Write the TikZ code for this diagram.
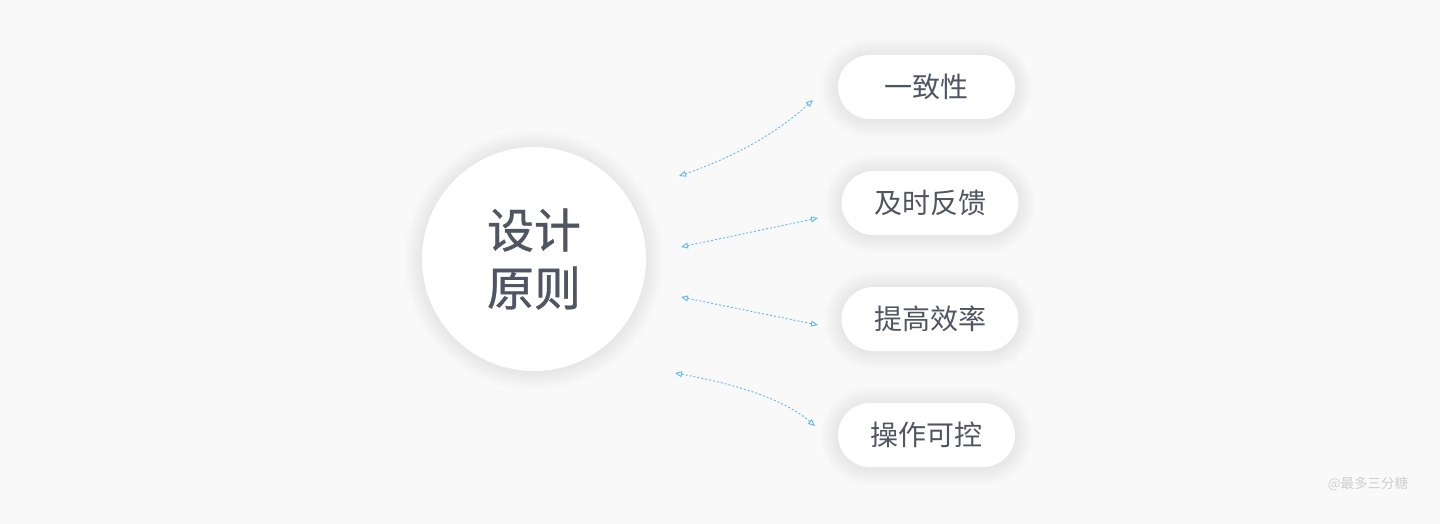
\documentclass[tikz,border=0pt]{standalone}
\usepackage{fontspec}
\setmainfont{Noto Sans CJK SC}
\usetikzlibrary{arrows.meta}
\definecolor{bgc}{HTML}{F9F9F9}
\definecolor{txt}{HTML}{4F5562}
\definecolor{arr}{HTML}{62B8F2}
\definecolor{wm}{HTML}{CFCFCF}
\tikzset{
  pill/.style={draw=none,fill=white,rounded corners=32pt,minimum width=177pt,minimum height=64pt,text=txt,font=\fontsize{28}{32}\selectfont},
  hub/.style={circle,draw=none,fill=white,minimum size=224pt,text=txt,font=\fontsize{47}{58}\selectfont\addfontfeatures{FakeBold=0.7},align=center},
  link/.style={arr,line width=0.9pt,dash pattern=on 2pt off 2pt,{Triangle[open,length=7pt,width=6pt]}-{Triangle[open,length=7pt,width=6pt]}}
}
\begin{document}
\begin{tikzpicture}[x=1pt,y=-1pt]
\fill[bgc] (0,0) rectangle (1440,524);
\useasboundingbox (0,0) rectangle (1440,524);
% soft shadows
\foreach \k in {1,...,18}{
  \fill[black,opacity=0.0035] (534,260) circle ({112+\k});
  \foreach \cx/\cy in {926.5/88,930/204,930/320,926.5/436}{
    \fill[black,opacity=0.0035,rounded corners={32+\k}] ({\cx-88.5-\k},{\cy-32-\k}) rectangle ({\cx+88.5+\k},{\cy+32+\k});
  }
}
\node[hub] (c) at (534,259) {设计\\原则};
\node[pill] (p1) at (926.5,87) {一致性};
\node[pill] (p2) at (930,203) {及时反馈};
\node[pill] (p3) at (930,319) {提高效率};
\node[pill] (p4) at (926.5,435) {操作可控};
\coordinate (a1) at (679,176); \coordinate (b1) at (813,100);
\coordinate (a2) at (681,247); \coordinate (b2) at (818,218);
\coordinate (a3) at (681,297); \coordinate (b3) at (818,325);
\coordinate (a4) at (675,373); \coordinate (b4) at (815,426);
\draw[link] (a1) .. controls (740,155) and (780,130) .. (b1);
\draw[link] (a2) -- (b2);
\draw[link] (a3) -- (b3);
\draw[link] (a4) .. controls (740,385) and (785,400) .. (b4);
\node[text=wm,font=\fontsize{13.5}{15}\selectfont] (w) at (1368,484) {@最多三分糖};
\end{tikzpicture}
\end{document}
